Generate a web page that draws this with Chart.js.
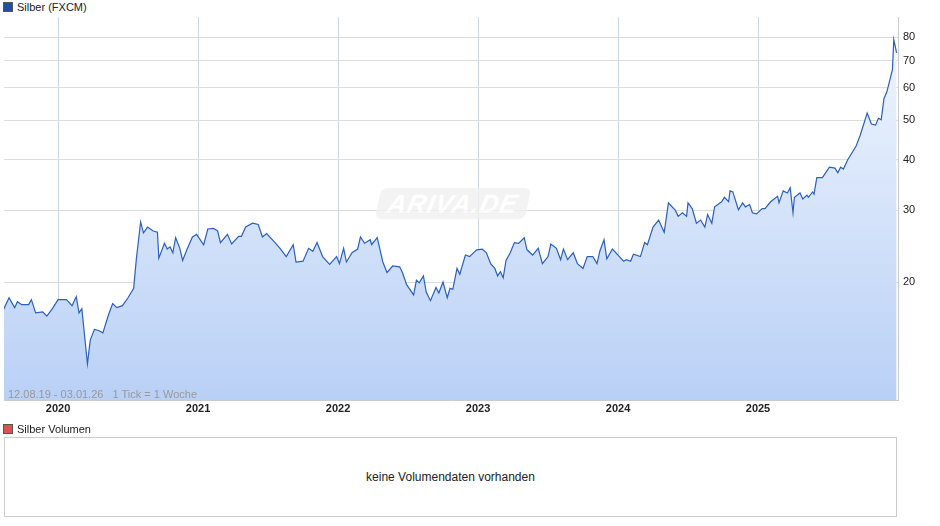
<!DOCTYPE html>
<html>
<head>
<meta charset="utf-8">
<script src="https://cdn.jsdelivr.net/npm/chart.js@4/dist/chart.umd.min.js"></script>
<style>
  body { margin:0; width:940px; height:526px; position:relative; font-family:"Liberation Sans", Arial, sans-serif; background:#fff; overflow:hidden; }
  .leg { position:absolute; left:3px; font-size:11px; color:#222; }
  .leg i { display:inline-block; width:8px; height:8px; margin-right:4px; vertical-align:-1px; border:1px solid #555; }
  #wrap { position:absolute; left:0; top:0; width:940px; height:420px; }
  #vol { position:absolute; left:4px; top:437px; width:893px; height:80px; border:1px solid #ccc; box-sizing:border-box;
         display:flex; align-items:center; justify-content:center; font-size:12px; color:#222; }
  #info { position:absolute; left:8px; top:388px; font-size:11px; color:#999; }
  #wm { position:absolute; left:378px; top:188px; font-size:26px; font-style:italic; font-weight:bold; color:#fff;
        background:#f0f0f0; padding:0 10px; border-radius:6px; transform:skewX(-12deg); letter-spacing:1px; opacity:0.8; }
</style>
</head>
<body>
<div class="leg" style="top:1px"><i style="background:#1f4fa8"></i>Silber (FXCM)</div>
<div id="wrap"><canvas id="c"></canvas></div>
<div id="wm">ARIVA.DE</div>
<div id="info">12.08.19 - 03.01.26 &nbsp;&nbsp;1 Tick = 1 Woche</div>
<div class="leg" style="top:423px"><i style="background:#d9534f"></i>Silber Volumen</div>
<div id="vol">keine Volumendaten vorhanden</div>
<script>
// Wochenkurse Silber (Jahr als Dezimalzahl)
const zeit = [2019.61,2019.65,2019.69,2019.71,2019.74,2019.79,2019.81,2019.84,2019.89,2019.92,2019.96,2020.00,2020.06,2020.10,2020.13,2020.15,2020.17,2020.21,2020.23,2020.26,2020.29,2020.32,2020.36,2020.39,2020.42,2020.46,2020.50,2020.54,2020.56,2020.59,2020.61,2020.64,2020.68,2020.71,2020.72,2020.76,2020.78,2020.80,2020.82,2020.84,2020.87,2020.89,2020.92,2020.96,2020.99,2021.04,2021.07,2021.11,2021.14,2021.16,2021.21,2021.24,2021.29,2021.31,2021.34,2021.39,2021.43,2021.46,2021.49,2021.55,2021.59,2021.63,2021.68,2021.70,2021.75,2021.79,2021.82,2021.85,2021.89,2021.94,2021.99,2022.01,2022.04,2022.06,2022.10,2022.14,2022.16,2022.19,2022.23,2022.24,2022.28,2022.32,2022.35,2022.39,2022.44,2022.46,2022.49,2022.54,2022.56,2022.58,2022.61,2022.63,2022.66,2022.70,2022.72,2022.75,2022.78,2022.80,2022.82,2022.85,2022.87,2022.91,2022.94,2022.99,2023.03,2023.06,2023.09,2023.12,2023.14,2023.16,2023.18,2023.20,2023.23,2023.26,2023.29,2023.33,2023.35,2023.39,2023.43,2023.46,2023.50,2023.52,2023.56,2023.59,2023.61,2023.64,2023.68,2023.71,2023.75,2023.78,2023.82,2023.85,2023.87,2023.90,2023.92,2023.96,2024.00,2024.04,2024.06,2024.09,2024.11,2024.16,2024.19,2024.21,2024.25,2024.29,2024.33,2024.36,2024.41,2024.43,2024.46,2024.49,2024.50,2024.53,2024.56,2024.59,2024.62,2024.64,2024.67,2024.69,2024.74,2024.76,2024.79,2024.80,2024.82,2024.86,2024.89,2024.91,2024.94,2024.96,2024.99,2025.03,2025.05,2025.09,2025.14,2025.15,2025.18,2025.21,2025.23,2025.25,2025.26,2025.30,2025.32,2025.35,2025.36,2025.39,2025.40,2025.42,2025.46,2025.51,2025.55,2025.57,2025.59,2025.61,2025.64,2025.70,2025.73,2025.78,2025.81,2025.84,2025.86,2025.88,2025.90,2025.92,2025.96,2025.97,2025.99];
const kurs = [17.1,18.3,17.3,17.9,17.6,17.6,18.1,16.8,16.9,16.5,17.2,18.1,18.1,17.5,18.4,16.8,17.2,12.6,14.4,15.3,15.2,15.0,16.6,17.7,17.3,17.5,18.3,19.3,22.9,28.1,26.4,27.3,26.7,26.5,22.9,24.9,24.1,24.4,23.6,25.7,24.2,22.6,24.0,25.8,26.2,24.7,27.0,27.1,26.7,25.0,26.2,24.8,25.9,25.9,27.3,27.9,27.7,25.8,26.3,25.0,24.1,23.1,24.7,22.4,22.5,24.2,23.8,25.0,23.1,22.1,23.1,22.2,24.2,22.4,23.6,24.1,25.8,24.9,25.4,24.7,25.7,22.4,21.1,21.9,21.8,21.1,19.7,18.6,20.2,19.9,20.7,18.9,18.0,19.4,18.8,20.0,18.3,19.3,19.2,21.6,20.9,23.3,23.1,24.0,24.1,23.6,22.2,21.6,20.7,21.2,20.5,22.6,23.6,25.0,24.9,25.7,24.0,23.3,24.2,22.2,23.1,24.8,24.2,22.7,24.1,22.7,23.6,22.2,21.6,23.1,23.1,22.2,23.8,25.4,22.8,24.1,23.3,22.5,22.7,22.5,23.4,23.1,25.0,24.7,27.3,28.4,26.5,31.3,30.0,29.0,29.6,29.0,31.3,30.3,27.9,28.4,27.3,29.3,27.9,30.6,31.5,32.3,31.5,33.5,33.3,30.1,31.3,30.6,31.0,29.6,29.4,30.3,30.3,31.5,32.5,31.3,33.5,33.1,34.1,29.6,32.3,33.1,32.0,32.7,32.3,33.3,32.9,36.1,36.1,38.3,38.1,37.1,38.3,37.9,39.9,43.1,45.9,52.0,48.9,48.6,50.5,50.1,56.5,58.6,66.4,78.8,73.1];
const yTicks = [20, 30, 40, 50, 60, 70, 80];
const xTicks = [2020, 2021, 2022, 2023, 2024, 2025];

const ctx = document.getElementById('c').getContext('2d');
const punkte = zeit.map((t, i) => ({ x: t, y: kurs[i] }));

new Chart(ctx, {
  type: 'line',
  data: { datasets: [{
    data: punkte,
    borderColor: '#2a5fc4',
    borderWidth: 1.2,
    pointRadius: 0,
    tension: 0,
    fill: 'start',
    backgroundColor: (c) => {
      const a = c.chart.chartArea;
      if (!a) return '#dbe7fb';
      const g = c.chart.ctx.createLinearGradient(0, a.top, 0, a.bottom);
      g.addColorStop(0, '#f2f7fe');
      g.addColorStop(1, '#b9d0f6');
      return g;
    }
  }]},
  options: {
    responsive: true, maintainAspectRatio: false, animation: false,
    layout: { padding: { left: 4, top: 17, right: 0, bottom: 0 } },
    plugins: { legend: { display: false }, tooltip: { enabled: false } },
    scales: {
      x: {
        type: 'linear', min: 2019.614, max: 2026.0,
        afterBuildTicks: (s) => { s.ticks = xTicks.map(v => ({ value: v })); },
        afterFit: (s) => { s.height = 20; },
        ticks: { color: '#222', font: { size: 11, family: 'Liberation Sans', weight: 'bold' }, padding: 2,
                 callback: (v) => String(v), maxRotation: 0 },
        grid: { color: '#cdd6e4', drawTicks: false },
        border: { color: '#ccc' }
      },
      y: {
        type: 'logarithmic', position: 'right', min: 10.26, max: 89.6,
        afterBuildTicks: (s) => { s.ticks = yTicks.map(v => ({ value: v })); },
        afterFit: (s) => { s.width = 42; },
        ticks: { color: '#222', font: { size: 11, family: 'Liberation Sans' }, padding: 5,
                 callback: (v) => String(v) },
        grid: { color: '#dddddd', drawTicks: false },
        border: { color: '#ccc' }
      }
    }
  }
});
</script>
</body>
</html>
